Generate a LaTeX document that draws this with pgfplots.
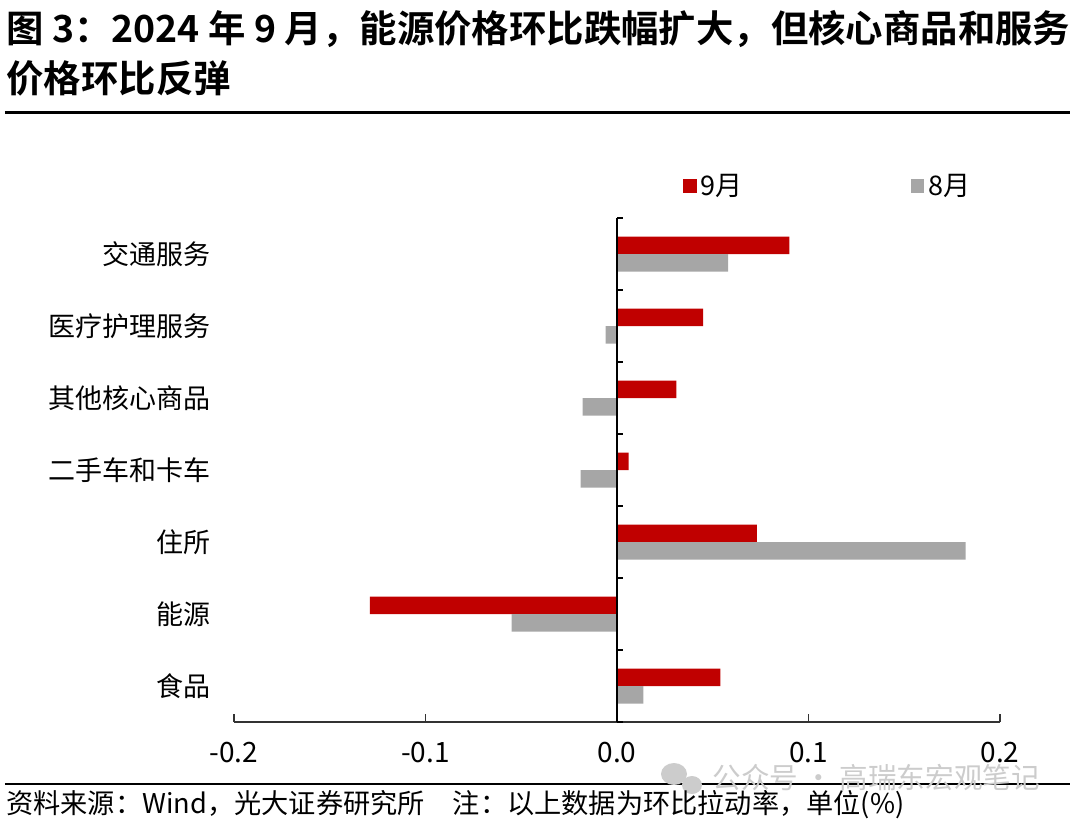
\documentclass[border=0pt]{standalone}
\usepackage{pgfplots}
\pgfplotsset{compat=1.18}
\usepackage{fontspec}
\setmainfont{Noto Sans CJK SC}[BoldFont={Noto Sans CJK SC Bold}]
\definecolor{cred}{HTML}{C00000}
\definecolor{cgray}{HTML}{A6A6A6}
\definecolor{wm}{HTML}{CCCCCC}
\begin{document}
\begin{tikzpicture}
\begin{scope}[x=0.5bp,y=-0.5bp]
\path[use as bounding box] (0,0) rectangle (1080,827);
\node[anchor=base west,inner sep=0pt,font=\fontsize{18.7bp}{22bp}\selectfont\bfseries] at (6,42) {图 3：2024 年 9 月，能源价格环比跌幅扩大，但核心商品和服务};
\node[anchor=base west,inner sep=0pt,font=\fontsize{18.7bp}{22bp}\selectfont\bfseries] at (6,92) {价格环比反弹};
\draw[line width=1.5bp] (5,112) -- (1070,112);
\draw[line width=0.9bp] (5,784) -- (1070,784);
\node[anchor=base west,inner sep=0pt,font=\fontsize{14.3bp}{16bp}\selectfont,text=wm] at (712,788) {公众号 · 高瑞东宏观笔记};
\fill[wm] (674,774) ellipse (13 and 11);
\fill[wm] (692,785) ellipse (10 and 9);
\node[anchor=base west,inner sep=0pt,font=\fontsize{13.6bp}{16bp}\selectfont] at (6,813) {资料来源：Wind，光大证券研究所\hspace{14bp}注：以上数据为环比拉动率，单位(\%)};
\end{scope}
\begin{axis}[
  at={(117bp,-361bp)}, anchor=south west,
  scale only axis, width=383bp, height=252bp,
  xbar, bar width=8.75bp,
  xmin=-0.2, xmax=0.2, ymin=-0.5, ymax=6.5,
  axis x line*=bottom,
  axis y line*=left,
  y axis line style={draw=none},
  x axis line style={line width=0.75bp, draw=black!80},
  xtick={-0.2,-0.1,0,0.1,0.2},
  xticklabels={-0.2,-0.1,0.0,0.1,0.2},
  x tick style={line width=0.75bp, draw=black!80},
  tick align=inside,
  major tick length=4bp,
  x tick label style={anchor=base, inner sep=0pt, yshift=-20bp, font=\fontsize{14bp}{16bp}\selectfont},
  ytick={0,1,2,3,4,5,6},
  yticklabels={食品,能源,住所,二手车和卡车,其他核心商品,医疗护理服务,交通服务},
  y tick style={draw=none},
  y tick label style={anchor=east, inner sep=0pt, xshift=-11.5bp, font=\fontsize{13.5bp}{16bp}\selectfont},
  legend columns=2,
  legend style={at={(rel axis cs:0.586,1)}, anchor=west, yshift=16bp, draw=none, fill=none,
    inner sep=0pt, font=\fontsize{13.5bp}{16bp}\selectfont,
    /tikz/every even column/.append style={column sep=82bp}},
  legend cell align=left,
  legend image code/.code={\fill[#1] (0bp,-3.4bp) rectangle (6.8bp,3.4bp);},
  clip=false,
]
\addplot[fill=cred, draw=none, bar shift=4.375bp] coordinates {
(0.054,0) (-0.129,1) (0.073,2) (0.006,3) (0.031,4) (0.045,5) (0.090,6)};
\addlegendentry{9月}
\addplot[fill=cgray, draw=none, bar shift=-4.375bp] coordinates {
(0.0137,0) (-0.055,1) (0.182,2) (-0.019,3) (-0.018,4) (-0.006,5) (0.058,6)};
\addlegendentry{8月}
\draw[line width=0.75bp, black] (axis cs:0,-0.5) -- (axis cs:0,6.5);
\draw[line width=0.75bp, black] (axis cs:0,-0.5) -- ++(3bp,0bp);
\draw[line width=0.75bp, black] (axis cs:0,0.5) -- ++(3bp,0bp);
\draw[line width=0.75bp, black] (axis cs:0,1.5) -- ++(3bp,0bp);
\draw[line width=0.75bp, black] (axis cs:0,2.5) -- ++(3bp,0bp);
\draw[line width=0.75bp, black] (axis cs:0,3.5) -- ++(3bp,0bp);
\draw[line width=0.75bp, black] (axis cs:0,4.5) -- ++(3bp,0bp);
\draw[line width=0.75bp, black] (axis cs:0,5.5) -- ++(3bp,0bp);
\draw[line width=0.75bp, black] (axis cs:0,6.5) -- ++(3bp,0bp);
\end{axis}
\end{tikzpicture}
\end{document}
